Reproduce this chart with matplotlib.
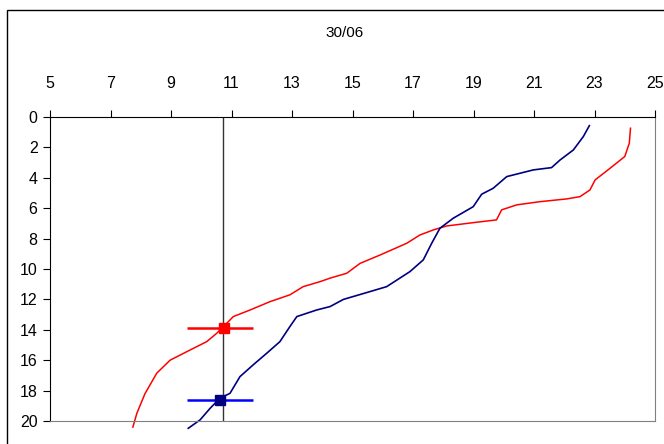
import matplotlib
matplotlib.use("Agg")
import matplotlib.pyplot as plt
from matplotlib.patches import Rectangle

plt.rcParams['font.family'] = ['Liberation Sans', 'DejaVu Sans']

# red profile (x value, depth)
red_x = [7.74, 7.87, 8.14, 8.53, 8.97, 9.52, 10.18, 10.51, 10.73, 11.06, 11.61, 12.27,
         12.93, 13.37, 13.93, 14.26, 14.81, 15.25, 15.91, 16.79, 17.23, 17.67, 18.11,
         18.99, 19.76, 19.93, 20.43, 21.2, 22.08, 22.52, 22.85, 23.02, 23.51, 24.0,
         24.15, 24.19]
red_y = [20.4, 19.5, 18.2, 16.85, 16.0, 15.44, 14.78, 14.23, 13.8, 13.13, 12.7, 12.15,
         11.7, 11.16, 10.83, 10.6, 10.28, 9.63, 9.08, 8.31, 7.76, 7.43, 7.17,
         6.95, 6.77, 6.11, 5.78, 5.57, 5.39, 5.24, 4.8, 4.14, 3.38, 2.6,
         1.73, 0.74]

# blue profile
blue_x = [9.57, 9.96, 10.29, 10.62, 10.95, 11.28, 11.72, 12.16, 12.6, 12.93, 13.16,
          13.81, 14.26, 14.7, 15.47, 16.13, 16.9, 17.34, 17.62, 17.89, 18.33, 18.99,
          19.27, 19.65, 20.1, 20.98, 21.58, 21.86, 22.3, 22.63, 22.83]
blue_y = [20.48, 19.93, 19.17, 18.5, 18.18, 17.08, 16.3, 15.55, 14.78, 13.79, 13.13,
          12.7, 12.47, 12.0, 11.55, 11.16, 10.17, 9.4, 8.3, 7.32, 6.66, 5.9,
          5.08, 4.69, 3.92, 3.48, 3.33, 2.83, 2.17, 1.29, 0.57]

# marker points: x, depth, error to the left, error to the right
red_pt = (10.74, 13.9, 1.21, 0.96)
blue_pt = (10.62, 18.59, 1.09, 1.08)
vline_x = 10.73

fig = plt.figure(figsize=(6.64, 4.44), dpi=100)
fig.patches.append(Rectangle((7 / 664, -0.1), 1.2, 1 - 10 / 444 + 0.1,
                             transform=fig.transFigure, fill=False,
                             edgecolor='black', linewidth=1))
ax = fig.add_axes([50 / 664, 1 - 421 / 444, 605 / 664, 304 / 444])

ax.plot(red_x, red_y, color='#ff0000', lw=1.1, clip_on=False)
ax.plot(blue_x, blue_y, color='#000080', lw=1.2, clip_on=False)
ax.axvline(vline_x, color='#333333', lw=1)

ax.errorbar(red_pt[0], red_pt[1], xerr=[[red_pt[2]], [red_pt[3]]], fmt='s',
            color='#ff0000', ecolor='#ff0000', elinewidth=1.8, markersize=7, capsize=0)
ax.errorbar(blue_pt[0], blue_pt[1], xerr=[[blue_pt[2]], [blue_pt[3]]], fmt='s',
            color='#000080', ecolor='#0000ff', elinewidth=1.8, markersize=7, capsize=0)

ax.set_xlim(5, 25)
ax.set_ylim(20, 0)
ax.set_xticks(range(5, 26, 2))
ax.set_yticks(range(0, 21, 2))
ax.xaxis.tick_top()
ax.tick_params(axis='x', direction='out', length=5, pad=14, labelsize=11.5)
ax.tick_params(axis='y', direction='out', length=5, pad=4, labelsize=11.5)
ax.spines['top'].set_color('black')
ax.spines['left'].set_color('black')
ax.spines['right'].set_color('#808080')
ax.spines['bottom'].set_color('#808080')

fig.text(345 / 664, 1 - 33 / 444, '30/06', ha='center', va='center', fontsize=11)

fig.savefig('out.png', dpi=100)
